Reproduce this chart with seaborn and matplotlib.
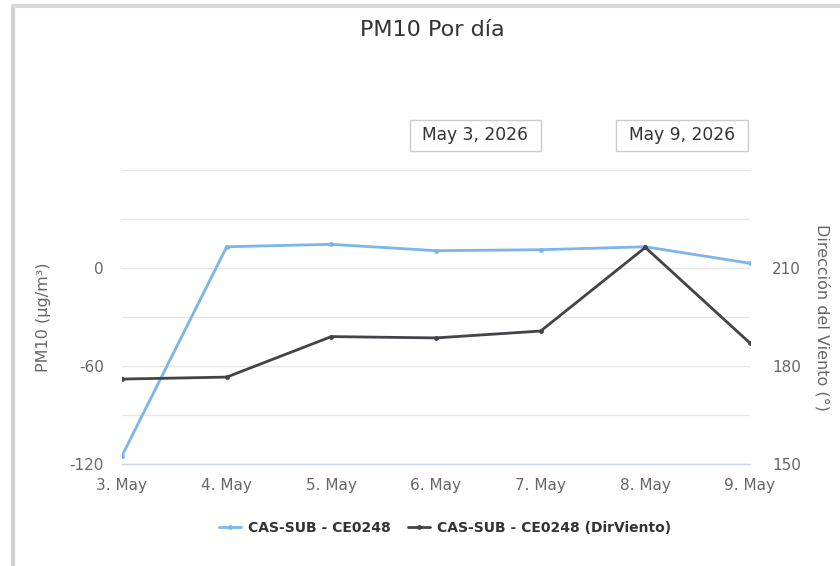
import matplotlib
matplotlib.use("Agg")
import matplotlib.pyplot as plt
import seaborn as sns
import pandas as pd
from matplotlib.lines import Line2D
from matplotlib.patches import Rectangle

days = [3, 4, 5, 6, 7, 8, 9]
day_labels = ["3. May", "4. May", "5. May", "6. May", "7. May", "8. May", "9. May"]
pm10 = [-115, 13, 14.5, 10.6, 11.2, 13, 2.9]
dir_viento = [176, 176.6, 189, 188.6, 190.7, 216.3, 187]
left_ticks = [-120, -60, 0]
right_ticks = [150, 180, 210]
series_names = ["CAS-SUB - CE0248", "CAS-SUB - CE0248 (DirViento)"]
range_labels = ["May 3, 2026", "May 9, 2026"]

sns.set_theme(style="white")
plt.rcParams['font.family'] = ['DejaVu Sans']
plt.rcParams['axes.unicode_minus'] = False

df = pd.DataFrame({"day": days, "pm10": pm10, "dir": dir_viento})

fig = plt.figure(figsize=(8.4, 5.66), dpi=100)
ax = fig.add_axes([122/840, 1-464/566, (750-122)/840, (464-170)/566])
ax2 = ax.twinx()

blue = "#7cb5ec"
dark = "#434348"
grey_text = "#666666"

sns.lineplot(data=df, x="day", y="pm10", ax=ax, color=blue, marker="o",
             markersize=3.5, markeredgewidth=0, linewidth=2, label=series_names[0], legend=False)
sns.lineplot(data=df, x="day", y="dir", ax=ax2, color=dark, marker="o",
             markersize=3.5, markeredgewidth=0, linewidth=2, label=series_names[1], legend=False)

ax.set_xlim(days[0], days[-1])
ax.set_ylim(-120, 60)
ax2.set_ylim(150, 240)

ax.set_yticks(left_ticks)
ax.set_yticks([-90, -30, 30, 60], minor=True)
ax2.set_yticks(right_ticks)
ax.yaxis.grid(True, which="both", color="#e6e6e6", linewidth=1)
ax.set_axisbelow(True)
ax.set_xticks(days)
ax.set_xticklabels(day_labels)

for a in (ax, ax2):
    for s in a.spines.values():
        s.set_visible(False)
ax.spines["bottom"].set_visible(True)
ax.spines["bottom"].set_color("#ccd6eb")
ax.spines["bottom"].set_linewidth(1)

ax.tick_params(axis="x", which="major", length=10, width=1, color="#ccd6eb",
               labelsize=11, labelcolor=grey_text, pad=0, direction="out")
ax.tick_params(axis="y", which="both", length=0, labelsize=11, labelcolor=grey_text, pad=13)
ax2.tick_params(axis="y", length=0, labelsize=11, labelcolor=grey_text, pad=16)

ax.set_xlabel("")
ax.set_ylabel("PM10 (µg/m³)", fontsize=11.5, color=grey_text)
ax2.set_ylabel("Dirección del Viento (°)", fontsize=11.5, color=grey_text, rotation=270)
ax.yaxis.set_label_coords(-0.113, 0.5)
ax2.yaxis.set_label_coords(1.128, 0.5)

fig.text(432/840, 1-30/566, "PM10 Por día", ha="center", va="center", fontsize=16, color="#333333")

for lbl, (x0, x1) in zip(range_labels, [(410, 541), (616, 748)]):
    fig.add_artist(Rectangle((x0/840, 1-151/566), (x1-x0)/840, 31/566, transform=fig.transFigure,
                             facecolor="white", edgecolor="#cccccc", linewidth=1))
    fig.text((x0+x1)/2/840, 1-135.5/566, lbl, ha="center", va="center", fontsize=12.3, color="#333333")

# outer frame
fig.add_artist(Line2D([13/840, 13/840], [0, 1-6/566], transform=fig.transFigure, color="#d0d0d0", linewidth=3))
fig.add_artist(Line2D([13/840, 1], [1-6/566, 1-6/566], transform=fig.transFigure, color="#d8d8d8", linewidth=3))

handles = [Line2D([0], [0], color=blue, lw=2, marker="o", markersize=3.5, markeredgewidth=0),
           Line2D([0], [0], color=dark, lw=2, marker="o", markersize=3.5, markeredgewidth=0)]
leg = fig.legend(handles, series_names, loc="center", bbox_to_anchor=(445/840, 1-528/566),
                 ncol=2, frameon=False, handlelength=1.6, columnspacing=1.2, handletextpad=0.5,
                 prop={"weight": "bold", "size": 10})
for t in leg.get_texts():
    t.set_color("#333333")

fig.savefig("out.png", dpi=100, facecolor="white")
